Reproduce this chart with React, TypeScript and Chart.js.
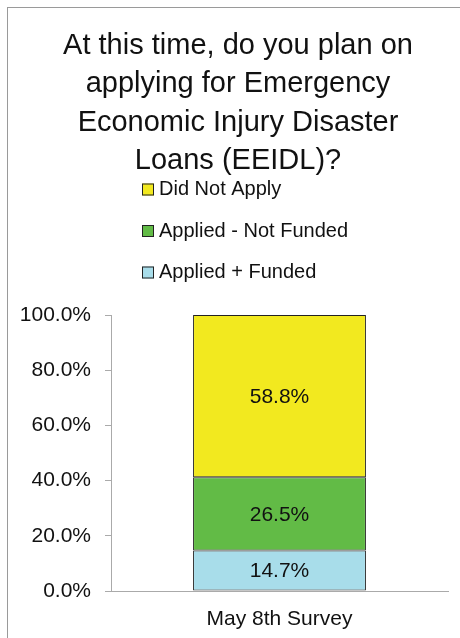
import React, { useEffect, useRef } from "react";
import { Chart, registerables } from "chart.js";

Chart.register(...registerables);

const categories = ["May 8th Survey"];
const seriesNames = ["Applied + Funded", "Applied - Not Funded", "Did Not Apply"];
const fundedValues = [14.7];
const notFundedValues = [26.5];
const didNotApplyValues = [58.8];
const seriesColors = ["#A8DDEA", "#62BB46", "#F2E91F"];
const titleLines = [
  "At this time, do you plan on",
  "applying for Emergency",
  "Economic Injury Disaster",
  "Loans (EEIDL)?",
];
const yTickStep = 20;
const yMax = 100;

const FONT = "'Liberation Sans', Arial, Helvetica, sans-serif";

const legendPlugin = {
  id: "verticalLegend",
  afterLayout(chart: any) {
    // nudge title centre slightly to the right, as in the reference
    if (chart.titleBlock) {
      chart.titleBlock.left += 7;
    }
  },
  afterDraw(chart: any) {
    const ctx = chart.ctx;
    const ds = chart.data.datasets.slice().reverse();
    const boxX = 142;
    const textX = 159;
    const y0 = 189.5;
    const step = 41.5;
    ctx.save();
    ctx.font = `20px ${FONT}`;
    ctx.textBaseline = "middle";
    ctx.textAlign = "left";
    ds.forEach((d: any, i: number) => {
      const y = y0 + i * step;
      ctx.fillStyle = d.backgroundColor;
      ctx.fillRect(boxX, y - 6, 12, 12);
      ctx.strokeStyle = "#222";
      ctx.lineWidth = 1;
      ctx.strokeRect(boxX + 0.5, y - 5.5, 11, 11);
      ctx.fillStyle = "#111";
      ctx.fillText(d.label, textX, y);
    });
    ctx.restore();
  },
};

const valueLabelPlugin = {
  id: "valueLabels",
  afterDatasetsDraw(chart: any) {
    const ctx = chart.ctx;
    ctx.save();
    ctx.font = `21px ${FONT}`;
    ctx.textAlign = "center";
    ctx.textBaseline = "middle";
    ctx.fillStyle = "#111";
    chart.data.datasets.forEach((d: any, di: number) => {
      const meta = chart.getDatasetMeta(di);
      meta.data.forEach((bar: any, i: number) => {
        const v = d.data[i];
        const cy = (bar.y + bar.base) / 2;
        ctx.fillText(`${v.toFixed(1)}%`, bar.x, cy + 1);
      });
    });
    ctx.restore();
  },
};

export default function App() {
  const ref = useRef<HTMLCanvasElement | null>(null);

  useEffect(() => {
    if (!ref.current) return;
    const values = [fundedValues, notFundedValues, didNotApplyValues];
    const chart = new Chart(ref.current, {
      type: "bar",
      data: {
        labels: categories,
        datasets: seriesNames.map((name, i) => ({
          label: name,
          data: values[i],
          backgroundColor: seriesColors[i],
          borderColor: "#222",
          borderWidth: 1,
          borderSkipped: false,
          categoryPercentage: 1,
          barPercentage: 0.513,
        })),
      },
      options: {
        responsive: false,
        animation: false,
        layout: { padding: { left: 21, right: 12, top: 0, bottom: 0 } },
        plugins: {
          legend: { display: false },
          tooltip: { enabled: false },
          title: {
            display: true,
            text: titleLines,
            color: "#111",
            font: { family: FONT, size: 29, weight: "normal", lineHeight: 1.32 },
            padding: { top: 27, bottom: 135 },
          },
        },
        scales: {
          x: {
            stacked: true,
            afterFit(scale: any) {
              scale.height = 47;
            },
            grid: { display: false, drawTicks: false },
            border: { display: true, color: "#aaa", width: 1 },
            ticks: {
              color: "#111",
              padding: 16,
              font: { family: FONT, size: 21 },
            },
          },
          y: {
            stacked: true,
            min: 0,
            max: yMax,
            afterFit(scale: any) {
              scale.width = 90;
            },
            grid: {
              drawOnChartArea: false,
              drawTicks: true,
              tickLength: 6,
              color: "#aaa",
            },
            border: { display: true, color: "#aaa", width: 1 },
            ticks: {
              stepSize: yTickStep,
              padding: 14,
              color: "#111",
              font: { family: FONT, size: 21 },
              callback: (v: any) => `${Number(v).toFixed(1)}%`,
            },
          },
        },
      },
      plugins: [legendPlugin, valueLabelPlugin],
    });
    return () => chart.destroy();
  }, []);

  return (
    <div style={{ position: "absolute", left: 0, top: 0, width: 460, height: 638, background: "#fff" }}>
      <div
        style={{
          position: "absolute",
          left: 7,
          top: 7,
          width: 453,
          height: 631,
          borderTop: "1.5px solid #9a9a9a",
          borderLeft: "1.5px solid #9a9a9a",
          boxSizing: "border-box",
        }}
      />
      <canvas ref={ref} width={460} height={638} style={{ position: "absolute", left: 0, top: 0, display: "block" }} />
    </div>
  );
}
